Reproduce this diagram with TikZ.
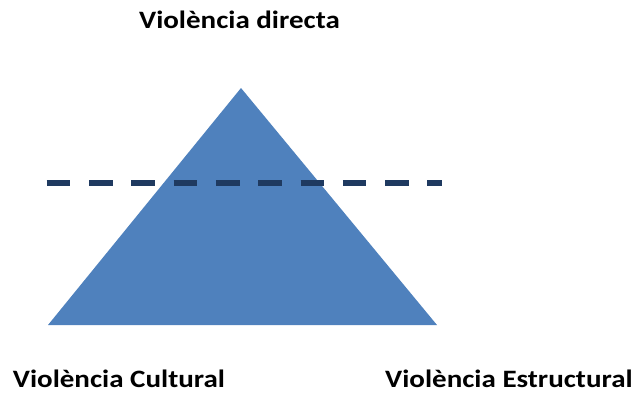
\documentclass[tikz,border=0pt]{standalone}
\usepackage{fontspec}
\usepackage{graphicx}
\setmainfont{Carlito}
\definecolor{triblue}{HTML}{4F81BD}
\definecolor{navy}{HTML}{1F3A60}
\newcommand{\wide}[1]{\scalebox{1.16}[1]{#1}}
\tikzset{
  lbl/.style={font=\bfseries\fontsize{25}{30}\selectfont, inner sep=0pt},
  tri/.style={fill=triblue, draw=none},
  cutline/.style={draw=navy, line width=5.7pt, dash pattern=on 23.6pt off 18.7pt}
}
\begin{document}
\begin{tikzpicture}[x=1pt,y=-1pt]
\useasboundingbox (0,0) rectangle (634,392);
\coordinate (apex) at (241,88);
\coordinate (bl) at (48,325);
\coordinate (br) at (437,325);
\fill[tri] (apex) -- (br) -- (bl) -- cycle;
\coordinate (d1) at (46.7,183);
\coordinate (d2) at (442,183);
\draw[cutline] (d1) -- (d2);
\node[lbl, anchor=base] (top) at (239.5,28) {\wide{Violència directa}};
\node[lbl, anchor=base west] (cult) at (12.7,387) {\wide{Violència Cultural}};
\node[lbl, anchor=base west] (estr) at (385,387) {\wide{Violència Estructural}};
\end{tikzpicture}
\end{document}
